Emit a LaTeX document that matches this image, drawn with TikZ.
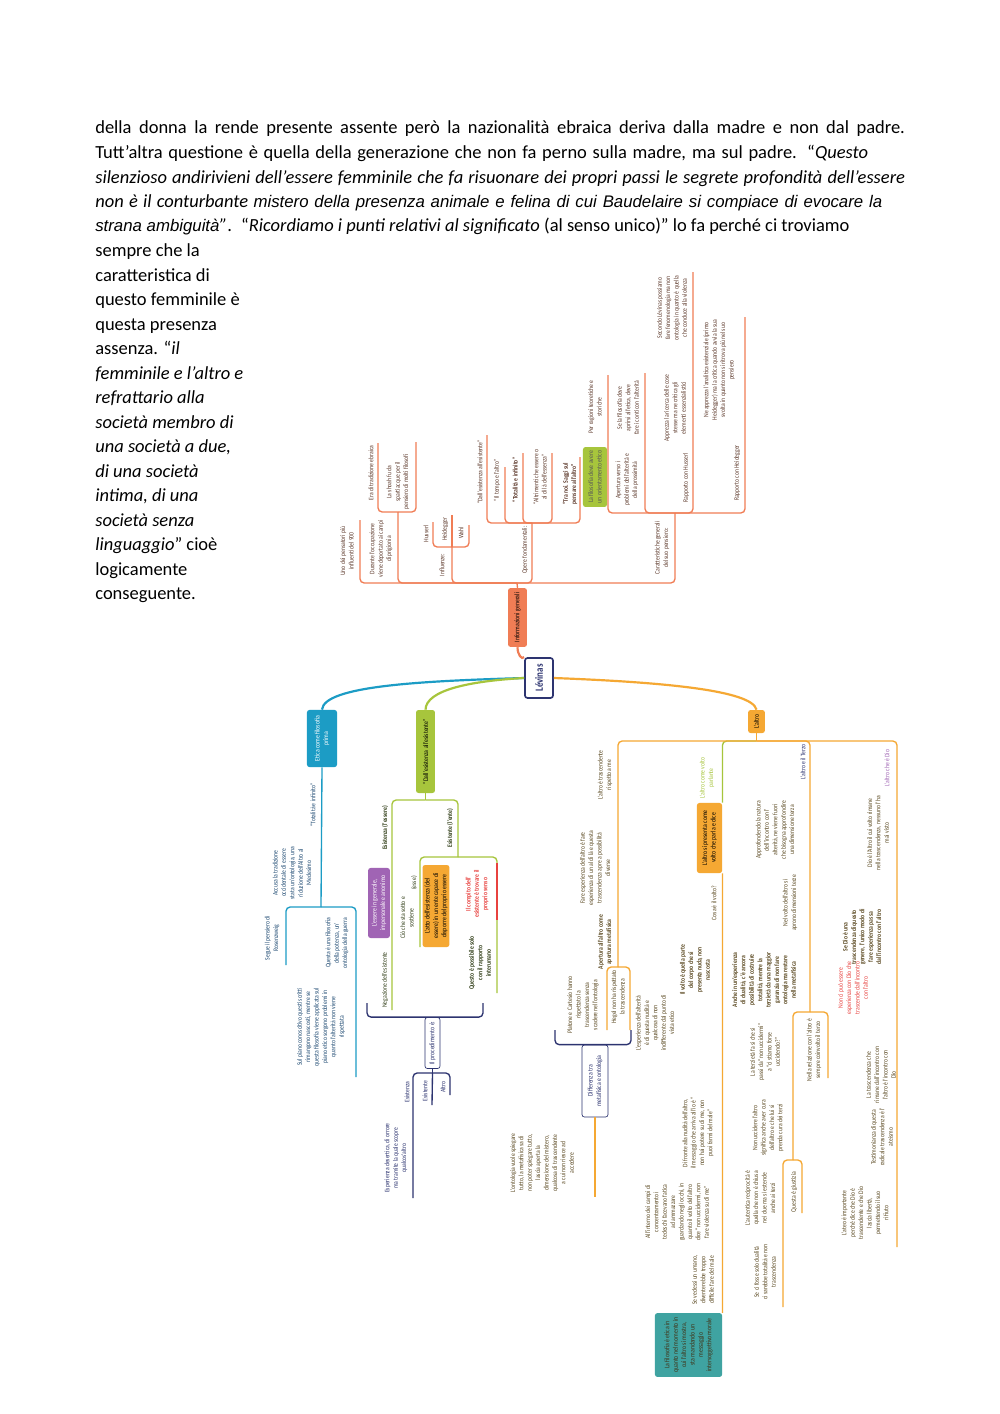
\documentclass[tikz,border=0pt]{standalone}
\usepackage{fontspec}
\setmainfont{Carlito}
\newfontfamily\arialfont{Liberation Sans}
\newfontfamily\mapfont[FakeStretch=0.82]{Carlito}

\definecolor{infoC}{HTML}{F07D55}
\definecolor{altroC}{HTML}{F5A833}
\definecolor{bluC}{HTML}{1C9CC5}
\definecolor{greC}{HTML}{A7C53C}
\definecolor{navyC}{HTML}{2D3470}
\definecolor{purpC}{HTML}{A064B4}
\definecolor{redC}{HTML}{E8423F}
\definecolor{tealC}{HTML}{3FA3A1}
\definecolor{infoT}{HTML}{5E3A2C}
\definecolor{altroT}{HTML}{5A4820}
\definecolor{bluT}{HTML}{1E4A72}
\definecolor{greT}{HTML}{33401A}

\begin{document}
\begin{tikzpicture}[
  x=0.5953pt, y=-0.5953pt,
  txt/.style={anchor=base west, inner sep=0pt, font=\fontsize{11}{13}\selectfont},
  leaf/.style={rotate=90, align=center, inner sep=0.4pt, font=\mapfont\fontsize{4.1}{5}\selectfont},
  leafb/.style={leaf, font=\mapfont\fontsize{4.1}{5}\selectfont\bfseries},
  box/.style={leaf, rounded corners=1.5pt, inner sep=1pt, font=\mapfont\fontsize{4.2}{5}\selectfont},
  conn/.style={line width=1.3pt},
  br/.style={line width=0.8pt, rounded corners=2.5pt}
]
\fill[white] (0,0) rectangle (1000,1414);
\useasboundingbox (0,0) rectangle (1000,1414);

% testo della pagina
\node[txt] (p1) at (95,133) {\makebox[482pt][s]{della donna la rende presente assente però la nazionalità ebraica deriva dalla madre e non dal padre.}};
\node[txt] (p2) at (95,158) {\makebox[460pt][s]{Tutt’altra questione è quella della generazione che non fa perno sulla madre, ma sul padre. “\textit{Questo}}};
\node[txt] (p3) at (95,183) {\itshape\makebox[482pt][s]{silenzioso andirivieni dell’essere femminile che fa risuonare dei propri passi le segrete profondità dell’essere}};
\node[txt] (p4) at (95,207) {\makebox[468.5pt][s]{\textit{non è il conturbante} {\arialfont\itshape\fontsize{10}{12}\selectfont mistero della presenza animale e felina di cui Baudelaire si compiace di evocare la}}};
\node[txt] (p5) at (95,231) {{\arialfont\itshape\fontsize{10}{12}\selectfont strana ambiguità}\textit{”}.\enspace “\textit{Ricordiamo i punti relativi al significato} (al senso unico)” lo fa perché ci troviamo};
\node[txt] (p6) at (95,256) {sempre che la};
\node[txt] (c1) at (95,281) {caratteristica di};
\node[txt] (c2) at (95,305) {questo femminile è};
\node[txt] (c3) at (95,330) {questa presenza};
\node[txt] (c4) at (95,354) {assenza. “\textit{il}};
\node[txt] (c5) at (95,379) {\textit{femminile e l’altro e}};
\node[txt] (c6) at (95,403) {\textit{refrattario alla}};
\node[txt] (c7) at (95,428) {\textit{società membro di}};
\node[txt] (c8) at (95,452) {\textit{una società a due,}};
\node[txt] (c9) at (95,477) {\textit{di una società}};
\node[txt] (c10) at (95,501) {\textit{intima, di una}};
\node[txt] (c11) at (95,526) {\textit{società senza}};
\node[txt] (c12) at (95,550) {\textit{linguaggio}” cioè};
\node[txt] (c13) at (95,575) {logicamente};
\node[txt] (c14) at (95,599) {conseguente.};

% mappa: centro
\node[box, draw=navyC, line width=1pt, fill=white, text=navyC, font=\mapfont\fontsize{6.5}{7}\selectfont\bfseries, minimum width=23.8pt, minimum height=16.7pt] (levinas) at (539,678) {Lévinas};
\node[box, fill=infoC, minimum width=35pt, minimum height=11.3pt] (info) at (517.5,617.5) {Informazioni generali};
\node[box, fill=bluC, text=white, minimum width=34pt, minimum height=17.9pt] (etica) at (322,738.5) {Etica come filosofia\\prima};
\node[box, fill=greC, minimum width=49.4pt, minimum height=11.3pt] (dall) at (425.5,751.5) {“Dall’esistenza all’esistente”};
\node[box, fill=altroC, minimum width=13.7pt, minimum height=10pt] (altro) at (756.5,721.5) {L’altro};

% informazioni generali
\node[leaf, text=infoT] (uno) at (347,551) {Uno dei pensatori più\\influenti del 900};
\node[leaf, text=infoT] (dur) at (381,549) {Durante l’occupazione\\viene deportato ai campi\\di prigionia};
\node[leaf, text=infoT] (era) at (371,473) {Era di tradizione ebraica};
\node[leaf, text=infoT] (sho) at (398,482) {La shoah fu da\\spartiacque per il\\pensiero di molti filosofi};
\node[leaf, text=infoT] (inf) at (442,565) {Influenze:};
\node[leaf, text=infoT] (hus) at (426,534) {Husserl};
\node[leaf, text=infoT] (hei) at (445,529) {Heidegger};
\node[leaf, text=infoT] (wah) at (461,533) {Wahl};
\node[leaf, text=infoT] (ope) at (525,550) {Opere fondamentali:};
\node[leaf, text=infoT] (o1) at (480,472) {“Dall’esistenza all’esistente”};
\node[leaf, text=infoT] (o2) at (497,480) {“Il tempo e l’altro”};
\node[leafb, text=infoT] (o3) at (515,480) {“Totalità e infinito”};
\node[leaf, text=infoT] (o4) at (540,477) {“Altrimenti che essere o\\al di là dell’essenza”};
\node[leafb, text=infoT] (o5) at (570,484) {“Tra noi. Saggi sul\\pensare all’altro”};
\node[leaf, text=infoT] (car) at (662,548) {Caratteristiche generali\\del suo pensiero:};
\node[box, fill=greC, text=black!65, minimum width=35.7pt, minimum height=14.3pt] (gbox) at (595,477) {La filosofia deve avere\\un orientamento etico};
\node[leaf, text=infoT] (rag) at (595,407) {Per ragioni teoretiche e\\storiche};
\node[leaf, text=infoT] (ape) at (627,480) {Apertura verso i\\problemi dell’alterità e\\della prossimità};
\node[leaf, text=infoT] (sef) at (628,408) {Se la filosofia deve\\aprirsi all’etica, deve\\fare i conti con l’alterità};
\node[leaf, text=infoT] (rhu) at (686,478) {Rapporto con Husserl};
\node[leaf, text=infoT] (app) at (675,408) {Apprezza la ricerca delle cose\\stesse ma ne critica gli\\elementi essenzialistici};
\node[leaf, text=infoT] (sec) at (672,308) {Secondo Lévinas possiamo\\fare fenomenologia ma non\\ontologia in quanto è quella\\che conduce alla violenza};
\node[leaf, text=infoT] (rhe) at (737,473) {Rapporto con Heidegger};
\node[leaf, text=infoT] (nea) at (719,370) {Ne apprezza l’analitica esistenziale (primo\\Heidegger) ma la critica quando avvia la sua\\svolta in quanto non si ritrova più nel suo\\pensiero};

% etica come filosofia prima
\node[leaf, text=bluT] (toi) at (313,805) {“Totalità e infinito”};
\node[leaf, text=bluT] (acc) at (292,873) {Accusa la tradizione\\occidentale di essere\\stata un’ontologia, una\\riduzione dell’Altro al\\Medesimo};
\node[leaf, text=bluT] (ros) at (272,938) {Segue il pensiero di\\Rosenzweig};
\node[leaf, text=bluT] (pot) at (337,943) {Questa è una filosofia\\della potenza, un’\\ontologia della guerra};
\node[leaf, text=bluT] (sul) at (321,1027) {Sul piano conoscitivo questi scritti\\rimangono nascosti, mentre se\\questa filosofia viene applicata sul\\piano etico sorgono problemi in\\quanto l’alterità non viene\\rispettata};

% dall'esistenza all'esistente
\node[leafb, text=greT] (esa) at (385,828) {Esistenza (l’essere)};
\node[leafb, text=greT] (ese) at (450,828) {Esistente (l’ente)};
\node[box, fill=purpC, text=white, minimum width=41.7pt, minimum height=13pt] (purp) at (379,903) {L’essere in generale,\\impersonale e anonimo};
\node[leaf, text=greT] (sos) at (407,918) {Ciò che sta sotto e\\sostiene};
\node[leaf, text=greT] (esse) at (414,883) {(esse)};
\node[leaf, text=greT] (neg) at (385,980) {Negazione dell’esistente};
\node[box, fill=altroC, minimum width=48.8pt, minimum height=16pt] (atto) at (436,906) {L’atto dell’esistenza (del\\essere) in un ente capace di\\disporre del proprio essere};
\node[leafb, text=redC] (comp) at (477,894) {Il compito dell’\\esistente è trovare il\\proprio senso};
\node[leafb, text=greT] (poss) at (480,963) {Questo è possibile solo\\con il rapporto\\interumano};
\node[box, draw=navyC, fill=white, text=navyC, minimum width=30.4pt, minimum height=9pt] (proc) at (432.5,1043) {Il procedimento è:};
\node[leaf, text=navyC] (pa) at (407,1092) {Esistenza};
\node[leaf, text=navyC] (pb) at (425,1091) {Esistente};
\node[leaf, text=navyC] (pc) at (443,1087) {Altro};
\node[leaf, text=navyC] (des) at (396,1158) {Esperienza desertica, di orrore\\ma tramite la quale scopre\\qualcos’altro};

% l'altro
\node[leaf, text=altroT] (tra) at (605,775) {L’altro è trascendente\\rispetto a me};
\node[leaf, text=altroT] (fare) at (595,868) {Fare esperienza dell’altro è fare\\esperienza di un al di là e questa\\trascendenza apre a possibilità\\diverse};
\node[leafb, text=altroT] (aper) at (605,942) {Apertura all’altro come\\apertura metafisica};
\node[leaf, text=altroT] (pla) at (583,1005) {Platone e Cartesio hanno\\rispettato la\\trascendenza senza\\scadere nell’ontologia};
\node[leaf, text=altroT] (heg) at (618,997) {Hegel non ha rispettato\\la trascendenza};
\node[box, draw=navyC, fill=white, text=navyC, minimum width=42.9pt, minimum height=15.5pt] (diff) at (595,1081) {Differenza tra\\metafisica e ontologia};
\node[leaf, text=altroT] (ont) at (542,1163) {L’ontologia vuole spiegare\\tutto, la metafisica sa di\\non poter spiegare tutto,\\lascia aperta la\\dimensione del mistero,\\qualcosa di trascendente\\a cui non riesce ad\\accedere};
\node[leaf, text=greC] (vpar) at (707,778) {L’altro come volto\\parlante};
\node[box, fill=altroC, minimum width=41.7pt, minimum height=15pt] (volto) at (709.5,838) {L’altro si presenta come\\volto che parla e dice};
\node[leaf, text=altroT] (cosa) at (714,903) {Cosa è il volto?};
\node[leafb, text=altroT] (nuda) at (695,970) {Il volto è quella parte\\del corpo che si\\presenta nuda, non\\nascosta};
\node[leaf, text=altroT] (esp) at (655,1023) {L’esperienza dell’alterità\\è di questa nudità e\\qualcosa di non\\indifferente dal punto di\\vista etico};
\node[leaf, text=altroT] (fron) at (698,1133) {Di fronte alla nudità dell’altro,\\il messaggio che arriva all’io è “\\non hai potere su di me, non\\puoi farmi del male”};
\node[leaf, text=altroT] (camp) at (677,1212) {All’interno dei campi di\\concentramento i\\tedeschi facevano fatica\\ad ammazzare\\guardando negli occhi, in\\quanto il volto dell’altro\\dice “non uccidermi, non\\fare violenza su di me”};
\node[leaf, text=altroT] (ved) at (703,1280) {Se vedessi un umano,\\diventerebbe troppo\\difficile fare del male};
\node[box, fill=tealC, text=altroT!70!black, minimum width=38pt, minimum height=40pt] (teal) at (688.5,1345) {La filosofia è etica in\\quanto nel momento in\\cui l’altro si mostra,\\sta mandando un\\messaggio\\intersoggettivo morale};
\node[leaf, text=navyC] (terz) at (803,762) {L’altro e il Terzo};
\node[leaf, text=altroT] (appr) at (775,830) {Approfondendo la natura\\dell’incontro con l’\\alterità, ne viene fuori\\che bisogna approfondire\\una dimensione terza};
\node[leaf, text=altroT] (nvol) at (790,903) {Nel volto dell’altro si\\aprono dimensioni terze};
\node[leafb, text=altroT] (anch) at (764,980) {Anche in un’esperienza\\di dualità, c’è ancora\\possibilità di costruire\\totalità, mentre la\\terzietà da una maggior\\garanzia di non fare\\ontologia ma restare\\nella metafisica};
\node[leaf, text=altroT] (terzi) at (765,1052) {La terzietà fa sì che si\\passi da “non uccidermi”\\a “ci stiamo forse\\uccidendo?”};
\node[leaf, text=altroT] (nrel) at (814,1050) {Nella relazione con l’altro è\\sempre coinvolto il terzo};
\node[leaf, text=altroT] (nucc) at (768,1128) {Non uccidere l’altro\\significa anche aver cura\\dell’altro e che lui si\\prenda cura dei terzi};
\node[leaf, text=altroT] (giu) at (794,1192) {Questa è giustizia};
\node[leaf, text=altroT] (rec) at (760,1198) {L’autentica reciprocità è\\quella che non è chiusa\\nei due ma si estende\\anche ai terzi};
\node[leaf, text=altroT] (dual) at (765,1272) {Se ci fosse solo dualità\\ci sarebbe totalità e non\\trascendenza};
\node[leaf, text=purpC] (dio) at (887,768) {L’altro che è Dio};
\node[leaf, text=altroT] (dioa) at (878,833) {Dio è l’Altro il cui volto rimane\\nella trascendenza, nessuno l’ha\\mai visto};
\node[leafb, text=altroT] (sedio) at (862,937) {Se Dio è una\\trascendenza di questo\\genere, l’unico modo di\\fare esperienza passa\\dall’incontro con l’altro};
\node[leaf, text=redC] (noncp) at (853,988) {Non ci può essere\\esperienza con Dio che\\trascende dall’incontro\\con l’altro};
\node[leaf, text=altroT] (trdio) at (881,1075) {La trascendenza che\\rimane dall’incontro con\\l’altro è l’incontro con\\Dio};
\node[leaf, text=altroT] (test) at (882,1137) {Testimonianza di questa\\radicale trascendenza è l’\\ateismo};
\node[leaf, text=altroT] (ateo) at (865,1213) {L’ateo è importante\\perché dice che Dio è\\trascendente e che Dio\\lascia libertà,\\permettendo il suo\\rifiuto};

% punti di snodo
\coordinate (fI) at (517,583);
\coordinate (uno-t) at (360,520);
\coordinate (dur-t) at (398,512);
\coordinate (era-t) at (378,443);
\coordinate (sho-t) at (416,442);
\coordinate (inf-t) at (452,547);
\coordinate (hus-t) at (433,522);
\coordinate (hei-t) at (452,515);
\coordinate (wah-t) at (469,525);
\coordinate (ope-t) at (532,523);
\coordinate (o1-t) at (487,435);
\coordinate (o2-t) at (505,467);
\coordinate (o3-t) at (523,453);
\coordinate (o4-t) at (552,453);
\coordinate (o5-t) at (580,457);
\coordinate (car-t) at (675,513);
\coordinate (gb-t) at (608,375);
\coordinate (ape-t) at (645,373);
\coordinate (rhu-t) at (693,272);
\coordinate (rhe-t) at (745,317);
\coordinate (fB) at (321,907);
\coordinate (ros-b) at (286,965);
\coordinate (pot-b) at (356,1077);
\coordinate (fG) at (425.5,800);
\coordinate (esa-b) at (392,1010);
\coordinate (ese-f) at (458,857);
\coordinate (atto-b) at (420,947);
\coordinate (poss-b) at (497,993);
\coordinate (comp-s) at (497,863);
\coordinate (comp-b) at (497,920);
\coordinate (brL) at (367,1003);
\coordinate (brR) at (483,1003);
\coordinate (fP) at (432.5,1073);
\coordinate (pa-b) at (413,1198);
\coordinate (pb-b) at (432,1105);
\coordinate (pc-b) at (450,1095);
\coordinate (fA) at (756.5,741);
\coordinate (a1-f) at (618,967);
\coordinate (pla-b) at (607,1030);
\coordinate (heg-b) at (630,1030);
\coordinate (bdL) at (555,1030);
\coordinate (bdR) at (631,1030);
\coordinate (ont-b) at (595,1197);
\coordinate (a3-f) at (810,1012);
\coordinate (nrel-b) at (828,1078);
\coordinate (gi-f) at (793,1160);
\coordinate (rec-b) at (783,1307);
\coordinate (giu-b) at (802,1213);
\coordinate (a4-b) at (897,1247);

% rami principali
\draw[conn, infoC] (info.west) .. controls (517.5,655) and (522,660) .. (levinas.north east);
\draw[conn, bluC] (levinas.north) .. controls (420,681) and (324,686) .. (etica.east);
\draw[conn, greC] (levinas.north) .. controls (470,681) and (426,690) .. (dall.east);
\draw[conn, altroC] (levinas.south) .. controls (660,682) and (752,690) .. (altro.east);

% informazioni generali
\draw[br, infoC] (info.east) -- (fI);
\draw[br, infoC] (fI) -| (uno-t);
\draw[br, infoC] (fI) -| (dur-t);
\draw[br, infoC] (fI) -| (inf-t);
\draw[br, infoC] (fI) -| (ope-t);
\draw[br, infoC] (fI) -| (car-t);
\draw[br, infoC] (dur-t) -| (era-t);
\draw[br, infoC] (dur-t) -| (sho-t);
\draw[br, infoC] (inf-t) -| (hus-t);
\draw[br, infoC] (inf-t) -- (hei-t);
\draw[br, infoC] (inf-t) -| (wah-t);
\draw[br, infoC] (ope-t) -| (o1-t);
\draw[br, infoC] (ope-t) -| (o2-t);
\draw[br, infoC] (ope-t) -| (o3-t);
\draw[br, infoC] (ope-t) -| (o4-t);
\draw[br, infoC] (ope-t) -| (o5-t);
\draw[br, infoC] (car-t) -| (gb-t);
\draw[br, infoC] (car-t) -| (ape-t);
\draw[br, infoC] (car-t) -| (rhu-t);
\draw[br, infoC] (car-t) -| (rhe-t);

% etica come filosofia prima
\draw[br, bluC] (etica.west) -- (fB);
\draw[br, bluC] (fB) -| (ros-b);
\draw[br, bluC] (fB) -| (pot-b);

% dall'esistenza all'esistente
\draw[br, greC] (dall.west) -- (fG);
\draw[br, greC] (fG) -| (esa-b);
\draw[br, greC] (fG) -| (ese-f);
\draw[br, greC] (ese-f) -| (atto-b);
\draw[br, greC] (ese-f) -| (poss-b);
\draw[br, redC, line width=1.1pt] (comp-s) -- (comp-b);
\draw[br, navyC] (brL) |- (proc.east) -| (brR);
\draw[br, navyC] (proc.west) -- (fP);
\draw[br, navyC] (fP) -| (pa-b);
\draw[br, navyC] (fP) -- (pb-b);
\draw[br, navyC] (fP) -| (pc-b);

% l'altro
\draw[br, greC] (fA) -| (volto.south east);
\draw[br, altroC] (altro.west) -- (fA);
\draw[br, altroC] (fA) -| (a1-f);
\draw[br, altroC] (fA) -| (a3-f);
\draw[br, altroC] (fA) -| (a4-b);
\draw[br, altroC] (a1-f) -| (pla-b);
\draw[br, altroC] (a1-f) -| (heg-b);
\draw[br, navyC] (bdL) |- (diff.east) -| (bdR);
\draw[br, altroC] (diff.west) -- (ont-b);
\draw[br, altroC] (volto.south west) -- (teal.south east);
\draw[br, altroC] (a3-f) -| (nrel-b);
\draw[br, altroC] (a3-f) -| (gi-f);
\draw[br, altroC] (gi-f) -| (rec-b);
\draw[br, altroC] (gi-f) -| (giu-b);
\end{tikzpicture}
\end{document}
